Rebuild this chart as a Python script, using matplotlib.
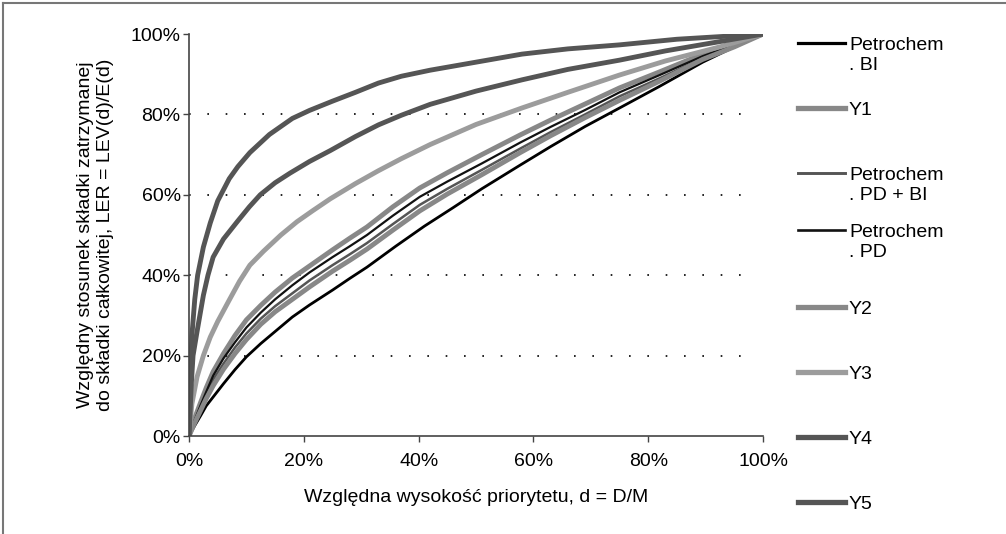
import matplotlib
matplotlib.use("Agg")
import matplotlib.pyplot as plt
from matplotlib.lines import Line2D

plt.rcParams['font.family'] = ['Liberation Sans', 'DejaVu Sans']

# values, in percent
x_bi = [0, 1, 2, 3, 4.2, 6, 8, 10, 12.5, 15, 18, 21, 25, 28, 31, 36, 41, 46, 51,
        57.7, 63, 69, 75, 82, 89.5, 95, 100]
y_bi = [0, 2.6, 5, 7.5, 9.7, 13, 16.5, 19.7, 23, 26, 29.6, 32.6, 36.3, 39.2, 42,
        47.2, 52.2, 56.8, 61.5, 67.4, 72, 77, 81.6, 87, 93, 96.8, 100]

x_c = [0, 1, 2, 3, 4.2, 6, 8, 10, 12.5, 15, 18, 21, 25, 28, 31, 35.5, 40.2, 45, 51,
       57.7, 63, 69, 75, 82, 89.5, 95, 100]
y_y1 = [0, 4.5, 8.3, 12, 16, 20.5, 25, 28.9, 32.5, 35.8, 39.3, 42.3, 46.3, 49.2,
        52, 57, 61.7, 65.5, 70, 74.9, 78.6, 82.6, 86.6, 90.6, 95, 97.6, 100]
y_pd = [0, 4, 7.6, 11, 15, 19.3, 23.3, 27, 30.7, 34, 37.5, 40.7, 44.5, 47.2, 50,
        54.8, 59.5, 63.3, 67.8, 73, 76.9, 81.1, 85.5, 89.8, 94.5, 97.3, 100]
y_pdbi = [0, 3.7, 7, 10.3, 14, 18, 22, 25.5, 29.2, 32.3, 35.5, 38.7, 42.5, 45.2,
          48, 52.7, 57.5, 61.5, 66.2, 71.5, 75.6, 80, 84.5, 89, 94, 97, 100]
y_y2 = [0, 3.3, 6.3, 9.3, 12.5, 16.6, 20.5, 24, 27.8, 30.9, 34, 37.1, 41, 43.7,
        46.5, 51.2, 56, 60.2, 65, 70.5, 74.7, 79.2, 83.5, 88.3, 93.7, 96.8, 100]

x_y3 = [0, 0.5, 1.4, 2.5, 3.7, 5, 7, 8.8, 10.6, 13, 16, 18.8, 21.5, 24.6, 29, 33,
        37, 42, 50, 58, 66, 75, 83, 92.5, 100]
y_y3 = [0, 8, 14.7, 20, 24.6, 28.5, 33.8, 38.5, 42.5, 46, 50, 53.3, 56, 59, 62.8,
        66, 69, 72.5, 77.5, 81.6, 85.5, 89.8, 93.3, 96.8, 100]

x_y4 = [0, 0.4, 0.7, 1.4, 2.5, 3.3, 4.2, 6, 8.5, 10.5, 12.4, 15, 17.6, 21, 24.6,
        29, 33, 37, 42, 50, 58, 66, 75, 83, 92, 100]
y_y4 = [0, 13, 20, 26, 35, 40, 44.5, 49, 53.5, 57, 60, 63, 65.4, 68.3, 71, 74.5,
        77.4, 79.8, 82.5, 85.8, 88.6, 91.2, 93.5, 95.8, 98, 100]

x_y5 = [0, 0.3, 0.5, 1, 1.5, 2.5, 3.7, 5, 7, 8.5, 10.6, 14, 18, 21, 25, 29, 33,
        37, 42, 50, 58, 66, 75, 85, 100]
y_y5 = [0, 18, 25, 34, 40, 47, 53, 58.5, 64, 67, 70.5, 75, 79, 81, 83.3, 85.5,
        87.8, 89.5, 91, 93, 95, 96.3, 97.3, 98.7, 100]

labels = ["Petrochem\n. BI", "Y1", "Petrochem\n. PD + BI", "Petrochem\n. PD",
          "Y2", "Y3", "Y4", "Y5"]
series = [(x_bi, y_bi), (x_c, y_y1), (x_c, y_pdbi), (x_c, y_pd),
          (x_c, y_y2), (x_y3, y_y3), (x_y4, y_y4), (x_y5, y_y5)]
colors = ['#000000', '#888888', '#555555', '#111111',
          '#888888', '#9c9c9c', '#555555', '#555555']
widths = [2.0, 3.5, 1.8, 1.6, 3.5, 3.5, 3.5, 3.5]

fig = plt.figure(figsize=(10.06, 5.34), dpi=100)
ax = fig.add_axes([0.1879, 0.1835, 0.5706, 0.7528])

for (xs, ys), c, w in zip(series, colors, widths):
    ax.plot(xs, ys, color=c, linewidth=w)

# dotted horizontal grid
for g in [20, 40, 60, 80]:
    ax.plot([0, 98.5], [g, g], color='black', linewidth=1.2,
            linestyle=(0, (1, 10)), zorder=0)

ax.set_xlim(0, 100)
ax.set_ylim(0, 100)
ticks = [0, 20, 40, 60, 80, 100]
ax.set_xticks(ticks)
ax.set_yticks(ticks)
ax.set_xticklabels(["%d%%" % t for t in ticks], fontsize=14)
ax.set_yticklabels(["%d%%" % t for t in ticks], fontsize=14)
ax.tick_params(axis='x', direction='out', length=4, width=1, color='#444444', pad=8)
ax.tick_params(axis='y', direction='out', length=4, width=1, color='#444444', pad=2)
ax.spines['top'].set_visible(False)
ax.spines['right'].set_visible(False)
ax.spines['left'].set_color('#444444')
ax.spines['bottom'].set_color('#444444')
ax.spines['left'].set_linewidth(1.2)
ax.spines['bottom'].set_linewidth(1.2)

ax.set_xlabel("Względna wysokość priorytetu, d = D/M", fontsize=14, labelpad=14)
ax.set_ylabel("Względny stosunek składki zatrzymanej\ndo składki całkowitej, LER = LEV(d)/E(d)",
              fontsize=14, labelpad=12)

# legend drawn by hand, one entry per series
leg_y = [43, 108, 173, 230, 307, 372, 437, 502]
W, H = 1006.0, 534.0
for lab, c, w, yp in zip(labels, colors, widths, leg_y):
    fy = 1 - yp / H
    fig.add_artist(Line2D([798 / W, 845 / W], [fy, fy], color=c,
                          linewidth=w + 0.3))
    fig.text(849 / W, fy + 6 / H, lab, fontsize=14, va='top', ha='left',
             linespacing=1.25)

# frame lines at the left and top
fig.add_artist(Line2D([3 / W, 3 / W], [0, 1 - 3 / H], color='#777777', linewidth=1.5))
fig.add_artist(Line2D([3 / W, 1], [1 - 3 / H, 1 - 3 / H], color='#777777', linewidth=1.5))

fig.savefig("out.png", dpi=100)
